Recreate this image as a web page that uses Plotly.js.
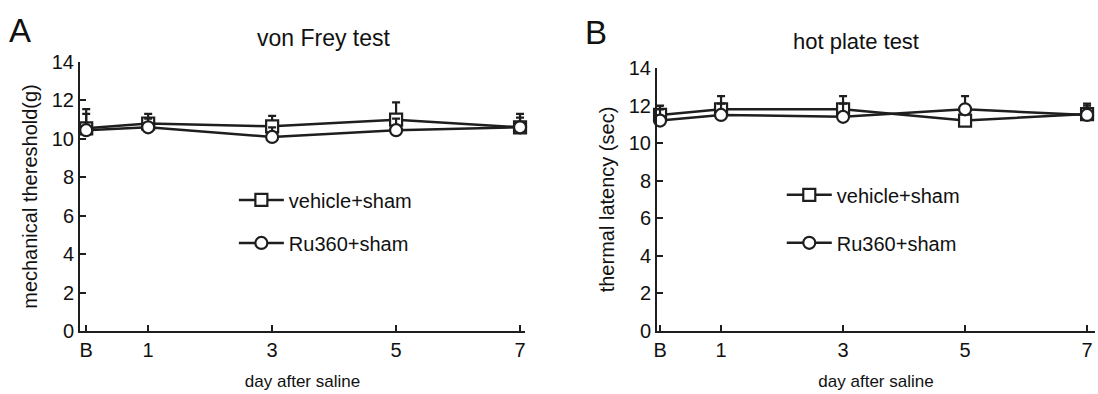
<!DOCTYPE html>
<html>
<head>
<meta charset="utf-8">
<script src="https://cdn.plot.ly/plotly-3.0.1.min.js"></script>
<style>
html,body{margin:0;padding:0;background:#fff;}
#chart{width:1098px;height:394px;}
</style>
</head>
<body>
<div id="chart"></div>
<script>
// x positions (B = baseline at 0) and tick labels
const days = [0, 1, 3, 5, 7];
const dayLabels = ['B', '1', '3', '5', '7'];
const yTicks = [0, 2, 4, 6, 8, 10, 12, 14];

// Panel A: von Frey test (mechanical threshold, g)
const vonFreyVehicle = [10.55, 10.8, 10.65, 11.0, 10.6];
const vonFreyVehicleErr = [1.0, 0.5, 0.55, 0.9, 0.7];
const vonFreyRu360 = [10.45, 10.6, 10.1, 10.45, 10.6];
const vonFreyRu360Err = [0.85, 0.45, 0.5, 0.6, 0.5];

// Panel B: hot plate test (thermal latency, sec)
const hotVehicle = [11.5, 11.8, 11.8, 11.2, 11.55];
const hotVehicleErr = [0.5, 0.7, 0.7, 0.6, 0.55];
const hotRu360 = [11.2, 11.5, 11.4, 11.8, 11.5];
const hotRu360Err = [0.6, 0.6, 0.7, 0.7, 0.5];

const seriesNames = ['vehicle+sham', 'Ru360+sham'];

const ink = '#1e1e1e';
const fam = 'Liberation Sans, Arial, sans-serif';
function trace(y, err, name, symbol, xa, ya, legend, group) {
  return {
    x: days, y: y, name: name, type: 'scatter', mode: 'lines+markers',
    xaxis: xa, yaxis: ya, legend: legend, legendgroup: group,
    line: {color: ink, width: 2.5},
    marker: {symbol: symbol, size: 12, color: '#fff', line: {color: ink, width: 2.2}},
    error_y: {type: 'data', symmetric: false, array: err, arrayminus: err.map(() => 0),
              color: ink, thickness: 2.2, width: 4},
    cliponaxis: false
  };
}

const data = [
  trace(vonFreyVehicle, vonFreyVehicleErr, seriesNames[0], 'square', 'x', 'y', 'legend', 'a1'),
  trace(vonFreyRu360, vonFreyRu360Err, seriesNames[1], 'circle', 'x', 'y', 'legend', 'a2'),
  trace(hotVehicle, hotVehicleErr, seriesNames[0], 'square', 'x2', 'y2', 'legend2', 'b1'),
  trace(hotRu360, hotRu360Err, seriesNames[1], 'circle', 'x2', 'y2', 'legend2', 'b2')
];

const tickFont = {family: fam, size: 20, color: '#111'};

function xaxis(domain, range) {
  return {
    domain: domain, range: range, tickmode: 'array', tickvals: days, ticktext: dayLabels,
    showline: true, linecolor: ink, linewidth: 2, ticks: 'inside', ticklen: 6, tickwidth: 2,
    tickcolor: ink, showgrid: false, zeroline: false, tickfont: tickFont,
    title: {text: 'day after saline', font: {family: fam, size: 17, color: '#111'}, standoff: 15}
  };
}
function yaxis(domain, anchor, title) {
  return {
    domain: domain, anchor: anchor, range: [0, 14], tickmode: 'array', tickvals: yTicks,
    showline: true, linecolor: ink, linewidth: 2, ticks: 'inside', ticklen: 6, tickwidth: 2,
    tickcolor: ink, showgrid: false, zeroline: false, tickfont: tickFont,
    title: {text: title, font: {family: fam, size: 20, color: '#111'}, standoff: 9}
  };
}

const legendFont = {family: fam, size: 20, color: '#111'};
const layout = {
  width: 1098, height: 394,
  margin: {l: 0, r: 0, t: 0, b: 0},
  paper_bgcolor: '#fff', plot_bgcolor: '#fff',
  showlegend: true,
  xaxis: Object.assign(xaxis([80/1098, 525/1098], [-0.1, 7.08]), {anchor: 'y'}),
  yaxis: yaxis([63/394, 332/394], 'x', 'mechanical thereshold(g)'),
  xaxis2: Object.assign(xaxis([657/1098, 1095/1098], [-0.05, 7.13]), {anchor: 'y2'}),
  yaxis2: yaxis([63/394, 326/394], 'x2', 'thermal latency (sec)'),
  legend: {x: 0.213, y: 0.542, xanchor: 'left', yanchor: 'top', bgcolor: 'rgba(0,0,0,0)',
           font: legendFont, itemwidth: 45, traceorder: 'grouped', tracegroupgap: 14},
  legend2: {x: 0.712, y: 0.555, xanchor: 'left', yanchor: 'top', bgcolor: 'rgba(0,0,0,0)',
           font: legendFont, itemwidth: 45, traceorder: 'grouped', tracegroupgap: 19},
  annotations: [
    {text: 'A', x: 7/1098, y: 1 - 30/394, xref: 'paper', yref: 'paper', xanchor: 'left', yanchor: 'middle',
     showarrow: false, font: {family: fam, size: 33, color: '#111'}},
    {text: 'B', x: 583/1098, y: 1 - 33/394, xref: 'paper', yref: 'paper', xanchor: 'left', yanchor: 'middle',
     showarrow: false, font: {family: fam, size: 33, color: '#111'}},
    {text: 'von Frey test', x: 324/1098, y: 1 - 38/394, xref: 'paper', yref: 'paper', xanchor: 'center', yanchor: 'middle',
     showarrow: false, font: {family: fam, size: 23, color: '#111'}},
    {text: 'hot plate test', x: 856/1098, y: 1 - 42/394, xref: 'paper', yref: 'paper', xanchor: 'center', yanchor: 'middle',
     showarrow: false, font: {family: fam, size: 22, color: '#111'}}
  ]
};

Plotly.newPlot('chart', data, layout, {displayModeBar: false, staticPlot: true});
</script>
</body>
</html>
